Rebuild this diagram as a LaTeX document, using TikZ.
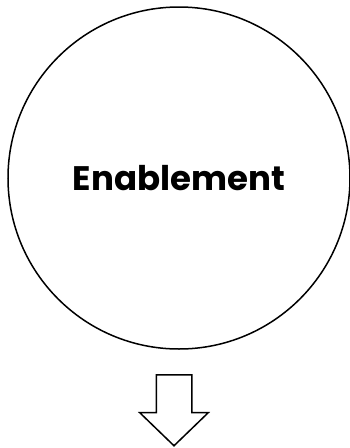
\documentclass[tikz,border=0pt]{standalone}
\usepackage{fontspec}
\setmainfont{Poppins}
\usetikzlibrary{shapes.arrows}
\begin{document}
\begin{tikzpicture}[x=1pt, y=-1pt]
  \tikzstyle{bigcircle} = [circle, draw, line width=1.5pt, minimum size=342pt, inner sep=0pt]
  \tikzstyle{downarrow} = [single arrow, draw, line width=1.5pt, rotate=-90, inner xsep=0pt, inner ysep=17pt, minimum height=71pt, single arrow head extend=16.5pt, single arrow tip angle=92]
  \useasboundingbox (0,0) rectangle (350,448);

  % Circle with label
  \node (enable) [bigcircle] at (179,178) {\fontsize{34}{40}\selectfont\bfseries Enablement};

  % Arrow below
  \node (down) [downarrow, anchor=tail] at (174,374) {};

\end{tikzpicture}
\end{document}
